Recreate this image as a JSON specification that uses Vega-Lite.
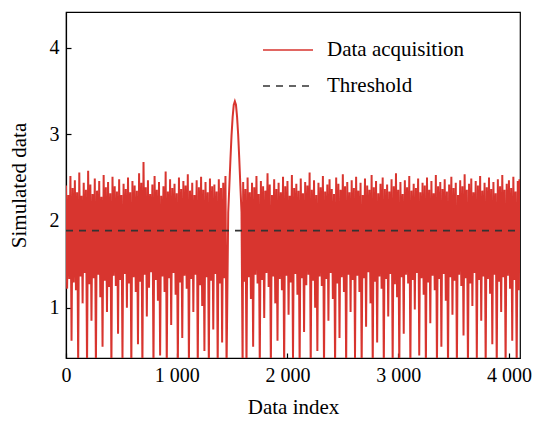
{
"$schema":"https://vega.github.io/schema/vega-lite/v6.json",
"width":454,"height":346,
"autosize":{"type":"none"},
"padding":{"left":66,"top":12,"right":14,"bottom":63},
"background":"white",
"config":{
 "font":"Liberation Serif",
 "view":{"stroke":"#000","strokeWidth":1.2},
 "axis":{"domainColor":"#000","domainWidth":1.2,"tickColor":"#000","tickSize":-5,"tickWidth":1.2,"labelFont":"Liberation Serif","labelFontSize":20,"labelColor":"#000","titleFont":"Liberation Serif","titleFontSize":21,"titleFontWeight":"normal","titleColor":"#000","grid":false,"labelPadding":12,"labelFlush":false},
 "legend":{"orient":"none","legendX":196,"legendY":12,"title":null,"symbolType":"stroke","symbolSize":2500,"symbolStrokeWidth":1.6,"labelFont":"Liberation Serif","labelFontSize":21,"labelColor":"#000","rowPadding":-26,"labelOffset":13,"padding":0}
},
"datasets":{
"sig":[
{"x":0,"y":2.41},{"x":10,"y":1.22},{"x":20,"y":2.30},{"x":30,"y":1.33},{"x":40,"y":2.52},{"x":50,"y":0.62},{"x":60,"y":2.38},{"x":70,"y":1.29},{"x":80,"y":2.47},{"x":90,"y":1.20},
{"x":100,"y":2.33},{"x":110,"y":0.35},{"x":120,"y":2.56},{"x":130,"y":1.36},{"x":140,"y":2.29},{"x":150,"y":1.05},{"x":160,"y":2.44},{"x":170,"y":1.40},{"x":180,"y":2.36},{"x":190,"y":0.30},
{"x":200,"y":2.58},{"x":210,"y":1.27},{"x":220,"y":2.42},{"x":230,"y":0.85},{"x":240,"y":2.31},{"x":250,"y":1.34},{"x":260,"y":2.49},{"x":270,"y":0.30},{"x":280,"y":2.35},{"x":290,"y":1.38},
{"x":300,"y":2.46},{"x":310,"y":1.12},{"x":320,"y":2.28},{"x":330,"y":0.55},{"x":340,"y":2.53},{"x":350,"y":1.31},{"x":360,"y":2.39},{"x":370,"y":0.95},{"x":380,"y":2.45},{"x":390,"y":1.24},
{"x":400,"y":2.32},{"x":410,"y":0.30},{"x":420,"y":2.51},{"x":430,"y":1.37},{"x":440,"y":2.40},{"x":450,"y":1.25},{"x":460,"y":2.34},{"x":470,"y":0.70},{"x":480,"y":2.48},{"x":490,"y":1.32},
{"x":500,"y":2.30},{"x":510,"y":0.40},{"x":520,"y":2.43},{"x":530,"y":1.39},{"x":540,"y":2.37},{"x":550,"y":1.00},{"x":560,"y":2.50},{"x":570,"y":1.28},{"x":580,"y":2.33},{"x":590,"y":0.30},
{"x":600,"y":2.46},{"x":610,"y":1.35},{"x":620,"y":2.41},{"x":630,"y":1.18},{"x":640,"y":2.35},{"x":650,"y":0.58},{"x":660,"y":2.55},{"x":670,"y":1.30},{"x":680,"y":2.44},{"x":690,"y":0.30},
{"x":700,"y":2.68},{"x":710,"y":1.38},{"x":720,"y":2.39},{"x":730,"y":0.90},{"x":740,"y":2.47},{"x":750,"y":1.23},{"x":760,"y":2.31},{"x":770,"y":1.41},{"x":780,"y":2.42},{"x":790,"y":0.30},
{"x":800,"y":2.52},{"x":810,"y":1.32},{"x":820,"y":2.36},{"x":830,"y":1.08},{"x":840,"y":2.45},{"x":850,"y":0.45},{"x":860,"y":2.29},{"x":870,"y":1.36},{"x":880,"y":2.40},{"x":890,"y":1.18},
{"x":900,"y":2.57},{"x":910,"y":0.30},{"x":920,"y":2.34},{"x":930,"y":1.34},{"x":940,"y":2.48},{"x":950,"y":0.80},{"x":960,"y":2.38},{"x":970,"y":1.40},{"x":980,"y":2.43},{"x":990,"y":1.15},
{"x":1000,"y":2.32},{"x":1010,"y":0.30},{"x":1020,"y":2.50},{"x":1030,"y":1.29},{"x":1040,"y":2.37},{"x":1050,"y":0.65},{"x":1060,"y":2.46},{"x":1070,"y":1.37},{"x":1080,"y":2.41},{"x":1090,"y":1.22},
{"x":1100,"y":2.54},{"x":1110,"y":0.35},{"x":1120,"y":2.35},{"x":1130,"y":1.33},{"x":1140,"y":2.44},{"x":1150,"y":0.95},{"x":1160,"y":2.30},{"x":1170,"y":1.38},{"x":1180,"y":2.47},{"x":1190,"y":0.30},
{"x":1200,"y":2.39},{"x":1210,"y":1.26},{"x":1220,"y":2.51},{"x":1230,"y":1.02},{"x":1240,"y":2.36},{"x":1250,"y":0.50},{"x":1260,"y":2.45},{"x":1270,"y":1.35},{"x":1280,"y":2.33},{"x":1290,"y":0.30},
{"x":1300,"y":2.49},{"x":1310,"y":1.31},{"x":1320,"y":2.40},{"x":1330,"y":0.75},{"x":1340,"y":2.42},{"x":1350,"y":1.39},{"x":1360,"y":2.34},{"x":1370,"y":0.30},{"x":1380,"y":2.48},{"x":1390,"y":1.28},
{"x":1400,"y":2.38},{"x":1410,"y":0.60},{"x":1420,"y":2.44},{"x":1430,"y":1.34},{"x":1440,"y":2.52},{"x":1450,"y":0.30},
{"x":1465,"y":2.10},{"x":1475,"y":2.40},{"x":1485,"y":2.71},{"x":1495,"y":2.99},{"x":1505,"y":3.20},{"x":1515,"y":3.34},{"x":1525,"y":3.38},{"x":1535,"y":3.34},{"x":1545,"y":3.20},{"x":1555,"y":2.99},{"x":1565,"y":2.71},{"x":1575,"y":2.40},{"x":1585,"y":2.10},{"x":1595,"y":0.30},
{"x":1600,"y":2.45},{"x":1610,"y":1.30},{"x":1620,"y":2.37},{"x":1630,"y":0.30},{"x":1640,"y":2.50},{"x":1650,"y":1.35},{"x":1660,"y":2.33},{"x":1670,"y":1.10},{"x":1680,"y":2.44},{"x":1690,"y":0.55},
{"x":1700,"y":2.39},{"x":1710,"y":1.38},{"x":1720,"y":2.52},{"x":1730,"y":1.28},{"x":1740,"y":2.31},{"x":1750,"y":0.30},{"x":1760,"y":2.46},{"x":1770,"y":1.32},{"x":1780,"y":2.40},{"x":1790,"y":0.88},
{"x":1800,"y":2.35},{"x":1810,"y":1.40},{"x":1820,"y":2.55},{"x":1830,"y":1.24},{"x":1840,"y":2.42},{"x":1850,"y":0.30},{"x":1860,"y":2.30},{"x":1870,"y":1.36},{"x":1880,"y":2.48},{"x":1890,"y":1.05},
{"x":1900,"y":2.37},{"x":1910,"y":0.62},{"x":1920,"y":2.44},{"x":1930,"y":1.33},{"x":1940,"y":2.33},{"x":1950,"y":1.20},{"x":1960,"y":2.51},{"x":1970,"y":0.30},{"x":1980,"y":2.40},{"x":1990,"y":1.37},
{"x":2000,"y":2.46},{"x":2010,"y":0.92},{"x":2020,"y":2.29},{"x":2030,"y":1.29},{"x":2040,"y":2.53},{"x":2050,"y":0.40},{"x":2060,"y":2.38},{"x":2070,"y":1.39},{"x":2080,"y":2.43},{"x":2090,"y":1.15},
{"x":2100,"y":2.35},{"x":2110,"y":0.30},{"x":2120,"y":2.49},{"x":2130,"y":1.34},{"x":2140,"y":2.32},{"x":2150,"y":0.72},{"x":2160,"y":2.45},{"x":2170,"y":1.26},{"x":2180,"y":2.41},{"x":2190,"y":1.38},
{"x":2200,"y":2.56},{"x":2210,"y":0.30},{"x":2220,"y":2.36},{"x":2230,"y":1.31},{"x":2240,"y":2.47},{"x":2250,"y":1.00},{"x":2260,"y":2.30},{"x":2270,"y":0.50},{"x":2280,"y":2.44},{"x":2290,"y":1.36},
{"x":2300,"y":2.39},{"x":2310,"y":1.25},{"x":2320,"y":2.52},{"x":2330,"y":0.30},{"x":2340,"y":2.34},{"x":2350,"y":1.33},{"x":2360,"y":2.42},{"x":2370,"y":0.85},{"x":2380,"y":2.48},{"x":2390,"y":1.40},
{"x":2400,"y":2.37},{"x":2410,"y":1.10},{"x":2420,"y":2.31},{"x":2430,"y":0.30},{"x":2440,"y":2.50},{"x":2450,"y":1.28},{"x":2460,"y":2.43},{"x":2470,"y":0.65},{"x":2480,"y":2.36},{"x":2490,"y":1.35},
{"x":2500,"y":2.54},{"x":2510,"y":1.18},{"x":2520,"y":2.40},{"x":2530,"y":0.30},{"x":2540,"y":2.45},{"x":2550,"y":1.38},{"x":2560,"y":2.33},{"x":2570,"y":0.95},{"x":2580,"y":2.47},{"x":2590,"y":1.32},
{"x":2600,"y":2.38},{"x":2610,"y":0.42},{"x":2620,"y":2.51},{"x":2630,"y":1.37},{"x":2640,"y":2.35},{"x":2650,"y":1.18},{"x":2660,"y":2.44},{"x":2670,"y":0.30},{"x":2680,"y":2.30},{"x":2690,"y":1.34},
{"x":2700,"y":2.49},{"x":2710,"y":0.78},{"x":2720,"y":2.41},{"x":2730,"y":1.41},{"x":2740,"y":2.36},{"x":2750,"y":1.05},{"x":2760,"y":2.53},{"x":2770,"y":0.30},{"x":2780,"y":2.39},{"x":2790,"y":1.30},
{"x":2800,"y":2.46},{"x":2810,"y":0.60},{"x":2820,"y":2.32},{"x":2830,"y":1.36},{"x":2840,"y":2.43},{"x":2850,"y":1.22},{"x":2860,"y":2.50},{"x":2870,"y":0.30},{"x":2880,"y":2.37},{"x":2890,"y":1.33},
{"x":2900,"y":2.42},{"x":2910,"y":0.90},{"x":2920,"y":2.34},{"x":2930,"y":1.39},{"x":2940,"y":2.48},{"x":2950,"y":0.35},{"x":2960,"y":2.40},{"x":2970,"y":1.27},{"x":2980,"y":2.55},{"x":2990,"y":1.12},
{"x":3000,"y":2.36},{"x":3010,"y":0.30},{"x":3020,"y":2.45},{"x":3030,"y":1.35},{"x":3040,"y":2.31},{"x":3050,"y":0.70},{"x":3060,"y":2.47},{"x":3070,"y":1.38},{"x":3080,"y":2.39},{"x":3090,"y":1.28},
{"x":3100,"y":2.52},{"x":3110,"y":0.30},{"x":3120,"y":2.35},{"x":3130,"y":1.32},{"x":3140,"y":2.43},{"x":3150,"y":0.98},{"x":3160,"y":2.38},{"x":3170,"y":1.40},{"x":3180,"y":2.49},{"x":3190,"y":0.45},
{"x":3200,"y":2.33},{"x":3210,"y":1.34},{"x":3220,"y":2.44},{"x":3230,"y":1.15},{"x":3240,"y":2.41},{"x":3250,"y":0.30},{"x":3260,"y":2.50},{"x":3270,"y":1.29},{"x":3280,"y":2.36},{"x":3290,"y":0.82},
{"x":3300,"y":2.46},{"x":3310,"y":1.37},{"x":3320,"y":2.32},{"x":3330,"y":1.20},{"x":3340,"y":2.53},{"x":3350,"y":0.30},{"x":3360,"y":2.40},{"x":3370,"y":1.33},{"x":3380,"y":2.45},{"x":3390,"y":0.55},
{"x":3400,"y":2.37},{"x":3410,"y":1.39},{"x":3420,"y":2.48},{"x":3430,"y":1.08},{"x":3440,"y":2.34},{"x":3450,"y":0.30},{"x":3460,"y":2.42},{"x":3470,"y":1.35},{"x":3480,"y":2.51},{"x":3490,"y":0.92},
{"x":3500,"y":2.38},{"x":3510,"y":1.31},{"x":3520,"y":2.44},{"x":3530,"y":0.30},{"x":3540,"y":2.30},{"x":3550,"y":1.38},{"x":3560,"y":2.47},{"x":3570,"y":1.25},{"x":3580,"y":2.40},{"x":3590,"y":0.68},
{"x":3600,"y":2.54},{"x":3610,"y":1.34},{"x":3620,"y":2.36},{"x":3630,"y":0.30},{"x":3640,"y":2.43},{"x":3650,"y":1.28},{"x":3660,"y":2.49},{"x":3670,"y":1.02},{"x":3680,"y":2.33},{"x":3690,"y":1.40},
{"x":3700,"y":2.46},{"x":3710,"y":0.40},{"x":3720,"y":2.41},{"x":3730,"y":1.32},{"x":3740,"y":2.52},{"x":3750,"y":0.85},{"x":3760,"y":2.35},{"x":3770,"y":1.36},{"x":3780,"y":2.44},{"x":3790,"y":0.30},
{"x":3800,"y":2.39},{"x":3810,"y":1.33},{"x":3820,"y":2.50},{"x":3830,"y":1.16},{"x":3840,"y":2.37},{"x":3850,"y":0.58},{"x":3860,"y":2.45},{"x":3870,"y":1.38},{"x":3880,"y":2.32},{"x":3890,"y":0.30},
{"x":3900,"y":2.48},{"x":3910,"y":1.30},{"x":3920,"y":2.40},{"x":3930,"y":0.95},{"x":3940,"y":2.53},{"x":3950,"y":1.35},{"x":3960,"y":2.36},{"x":3970,"y":0.30},{"x":3980,"y":2.43},{"x":3990,"y":1.37},
{"x":4000,"y":2.47},{"x":4010,"y":1.22},{"x":4020,"y":2.38},{"x":4030,"y":0.62},{"x":4040,"y":2.51},{"x":4050,"y":1.32},{"x":4060,"y":2.34},{"x":4070,"y":0.30},{"x":4080,"y":2.46},{"x":4090,"y":1.20},{"x":4095,"y":2.48}
],
"thr":[{"x":0,"y":1.89},{"x":4100,"y":1.89}]
},
"layer":[
 {"data":{"name":"sig"},
  "mark":{"type":"line","clip":true,"strokeWidth":2},
  "encoding":{
   "x":{"field":"x","type":"quantitative","scale":{"domain":[0,4100],"nice":false,"zero":false},"axis":{"values":[0,1000,2000,3000,4000],"labelExpr":"replace(format(datum.value, ','), ',', ' ')","title":"Data index","titlePadding":11}},
   "y":{"field":"y","type":"quantitative","scale":{"domain":[0.42,4.41],"nice":false,"zero":false},"axis":{"values":[1,2,3,4],"format":"d","title":"Simulated data","titlePadding":20}},
   "color":{"datum":"Data acquisition","type":"nominal","scale":{"domain":["Data acquisition","Threshold"],"range":["#d8352f","#333333"]},"legend":{"title":null}},
   "strokeDash":{"datum":"Data acquisition","type":"nominal","scale":{"domain":["Data acquisition","Threshold"],"range":[[1,0],[7,6]]},"legend":{"title":null}}
  }},
 {"data":{"name":"thr"},
  "mark":{"type":"line","clip":true,"strokeWidth":1.8},
  "encoding":{
   "x":{"field":"x","type":"quantitative"},
   "y":{"field":"y","type":"quantitative"},
   "color":{"datum":"Threshold","type":"nominal"},
   "strokeDash":{"datum":"Threshold","type":"nominal"}
  }}
]
}
